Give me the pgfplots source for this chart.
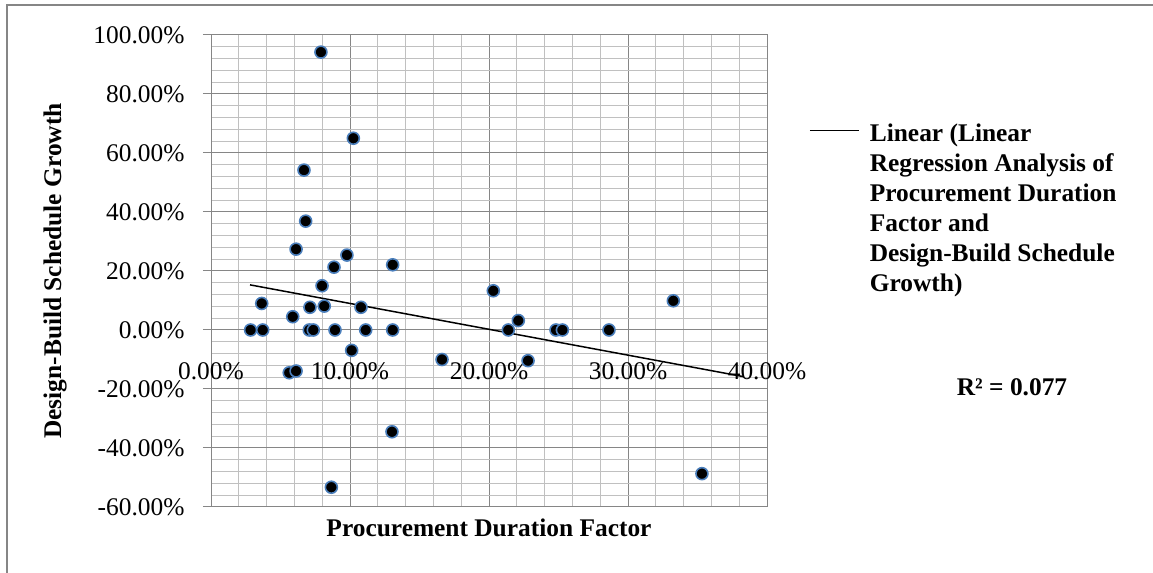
\documentclass[border=0pt]{standalone}
\usepackage{fontspec}
\setmainfont{Liberation Serif}
\usepackage{pgfplots}
\pgfplotsset{compat=1.18}

\definecolor{majgrid}{HTML}{868686}
\definecolor{mingrid}{HTML}{C0C0C0}
\definecolor{mkedge}{HTML}{4A7EBB}

\begin{document}
\begin{tikzpicture}
\useasboundingbox (0,0) rectangle (1153bp,573bp);
% chart area border (only top and left are inside the picture)
\draw[majgrid, line width=1.5bp] (7bp,0) -- (7bp,568bp) -- (1153bp,568bp);

\begin{axis}[
  at={(211bp,66bp)}, anchor=south west,
  scale only axis, width=556bp, height=472bp,
  xmin=0, xmax=40, ymin=-60, ymax=100,
  xtick={0,10,20,30,40},
  xticklabels={0.00\%,10.00\%,20.00\%,30.00\%,40.00\%},
  ytick={-60,-40,-20,0,20,40,60,80,100},
  yticklabels={-60.00\%,-40.00\%,-20.00\%,0.00\%,20.00\%,40.00\%,60.00\%,80.00\%,100.00\%},
  minor x tick num=4, minor y tick num=4,
  grid=both,
  major grid style={draw=majgrid, line width=1bp},
  minor grid style={draw=mingrid, line width=1bp},
  axis line style={draw=majgrid, line width=1bp},
  tick pos=left, tick align=outside,
  major tick length=8bp, minor tick length=0pt,
  xtick style={draw=none},
  ytick style={draw=majgrid, line width=1bp},
  tick label style={font=\fontsize{25.5}{30}\selectfont},
  xticklabel style={yshift=156bp},
  yticklabel style={xshift=-15bp},
  xlabel={Procurement Duration Factor},
  ylabel={Design-Build Schedule Growth},
  label style={font=\bfseries\fontsize{25.5}{30}\selectfont},
  xlabel style={at={(axis description cs:0.5,0)}, anchor=center, yshift=-21bp},
  ylabel style={at={(axis description cs:0,0.5)}, anchor=center, yshift=156bp},
  legend style={at={(1.070,0.82)}, anchor=north west, draw=none, fill=none,
    font=\bfseries\fontsize{25.5}{30}\selectfont,
    nodes={align=left}},
  legend cell align=left,
  legend image code/.code={%
    \path[draw=none] (0bp,-78bp) -- (58bp,78bp);
    \draw[#1] (0bp,78bp) -- (49bp,78bp);},
]
\addplot[only marks, mark=*, mark size=6bp,
  mark options={fill=black, draw=mkedge, line width=1.6bp}, forget plot]
coordinates {
  (7.91,94.2)(10.24,65.0)(6.69,54.2)(6.81,36.9)(6.12,27.4)(9.78,25.4)
  (8.85,21.3)(13.07,22.1)(7.99,15.0)(3.65,9.0)(7.12,7.7)(8.15,8.1)
  (10.79,7.7)(5.88,4.5)(2.85,0)(3.72,0)(7.07,0)(7.36,0)
  (8.92,0)(11.13,0)(13.07,0)(10.12,-6.9)(16.62,-10.0)(20.31,13.3)
  (21.39,0)(22.11,3.2)(22.81,-10.4)(24.82,0)(25.28,0)(5.63,-14.5)
  (6.12,-13.9)(28.63,0)(33.26,9.9)(13.02,-34.5)(8.66,-53.3)(35.32,-48.7)
};

\addplot[black, line width=1.5bp, no marks]
coordinates {(2.81,15.3)(38.3,-15.8)};
\addlegendentry{Linear (Linear\\Regression Analysis of\\Procurement Duration\\Factor and\\Design-Build Schedule\\Growth)}
\end{axis}

\node[font=\bfseries\fontsize{25.5}{30}\selectfont] at (1012bp,186bp) {R² = 0.077};
\end{tikzpicture}
\end{document}
